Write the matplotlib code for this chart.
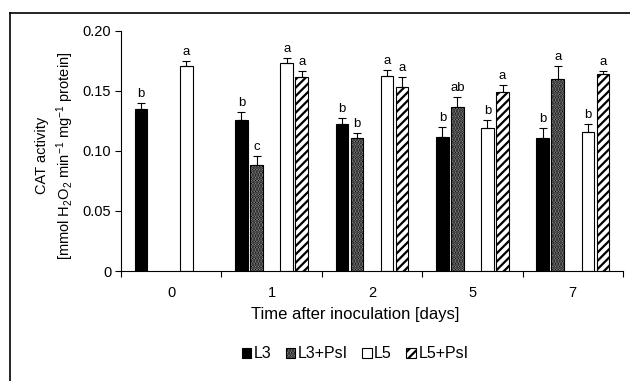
import numpy as np
import matplotlib
matplotlib.use("Agg")
import matplotlib.pyplot as plt
from matplotlib.lines import Line2D

plt.rcParams['font.family'] = ['Liberation Sans', 'DejaVu Sans']
plt.rcParams['mathtext.fontset'] = 'custom'
plt.rcParams['mathtext.rm'] = 'Liberation Sans'
plt.rcParams['mathtext.it'] = 'Liberation Sans:italic'
plt.rcParams['hatch.linewidth'] = 1.6

# data
days = ['0', '1', '2', '5', '7']
series = ['L3', 'L3+PsI', 'L5', 'L5+PsI']
l3 = [0.135, 0.126, 0.1225, 0.112, 0.111]
l3_psi = [np.nan, 0.088, 0.111, 0.1365, 0.160]
l5 = [0.171, 0.1735, 0.1625, 0.119, 0.116]
l5_psi = [np.nan, 0.162, 0.153, 0.149, 0.164]
l3_err = [0.005, 0.0065, 0.005, 0.008, 0.008]
l3_psi_err = [0, 0.008, 0.004, 0.0085, 0.011]
l5_err = [0.004, 0.004, 0.005, 0.007, 0.0065]
l5_psi_err = [0, 0.005, 0.009, 0.006, 0.0025]
l3_let = ['b', 'b', 'b', 'b', 'b']
l3_psi_let = ['', 'c', 'b', 'ab', 'a']
l5_let = ['a', 'a', 'a', 'b', 'b']
l5_psi_let = ['', 'a', 'a', 'a', 'a']

vals = [l3, l3_psi, l5, l5_psi]
errs = [l3_err, l3_psi_err, l5_err, l5_psi_err]
lets = [l3_let, l3_psi_let, l5_let, l5_psi_let]
# 5 slots per group, the middle one is empty
offsets = [-0.30, -0.15, 0.15, 0.30]
styles = [dict(facecolor='black', hatch=None),
          dict(facecolor='#a8a8a8', hatch='......'),
          dict(facecolor='white', hatch=None),
          dict(facecolor='white', hatch='////')]

fig = plt.figure(figsize=(6.3, 3.81), dpi=100)
ax = fig.add_axes([0.1921, 0.2887, 0.7968, 0.630])

x = np.arange(len(days)) + 0.5
for i in range(4):
    v = np.array(vals[i])
    e = np.array(errs[i])
    ax.bar(x + offsets[i], v, width=0.125, edgecolor='black', linewidth=0.8,
           label=series[i], **styles[i])
    ok = ~np.isnan(v)
    ax.errorbar((x + offsets[i])[ok], v[ok], yerr=[np.zeros(ok.sum()), e[ok]],
                fmt='none', ecolor='black', elinewidth=0.8, capsize=3, capthick=0.8)
    for j in range(len(days)):
        if lets[i][j]:
            ax.annotate(lets[i][j], (x[j] + offsets[i], v[j] + e[j]),
                        xytext=(0, 2), textcoords='offset points',
                        ha='center', va='bottom', fontsize=9.5)

ax.set_xlim(0, len(days))
ax.set_ylim(0, 0.20)
ax.set_yticks([0, 0.05, 0.10, 0.15, 0.20])
ax.set_yticklabels(['0', '0.05', '0.10', '0.15', '0.20'])
ax.set_xticks(np.arange(len(days) + 1))
ax.set_xticklabels([])
ax.set_xticks(x, minor=True)
ax.set_xticklabels(days, minor=True)
ax.tick_params(axis='x', which='minor', length=0, pad=11, labelsize=10.5)
ax.tick_params(axis='x', which='major', length=4, width=0.8, direction='out')
ax.tick_params(axis='y', length=4, width=0.8, direction='out', labelsize=10.5, pad=3)
for s in ['top', 'right']:
    ax.spines[s].set_visible(False)
for s in ['left', 'bottom']:
    ax.spines[s].set_linewidth(0.8)

ax.set_xlabel('Time after inoculation [days]', fontsize=12, va='top')
ax.xaxis.set_label_coords(0.466, -0.15)
ax.set_ylabel('CAT activity\n[mmol H$_2$O$_2$ min$^{-1}$ mg$^{-1}$ protein]',
              fontsize=10.5, linespacing=1.35)
ax.yaxis.set_label_coords(-0.09, 0.48)

fig.legend(loc='center', bbox_to_anchor=(355 / 630, 1 - 354 / 381), ncol=4,
           frameon=False, fontsize=11.5, handlelength=0.6, handleheight=0.6,
           handletextpad=0.15, columnspacing=0.9)

# outer frame (top and left only)
fig.add_artist(Line2D([10 / 630, 10 / 630], [0, 1 - 13 / 381], color='black',
                      lw=1.2, transform=fig.transFigure))
fig.add_artist(Line2D([10 / 630, 1], [1 - 13 / 381, 1 - 13 / 381], color='black',
                      lw=1.2, transform=fig.transFigure))

fig.savefig('out.png', dpi=100)
